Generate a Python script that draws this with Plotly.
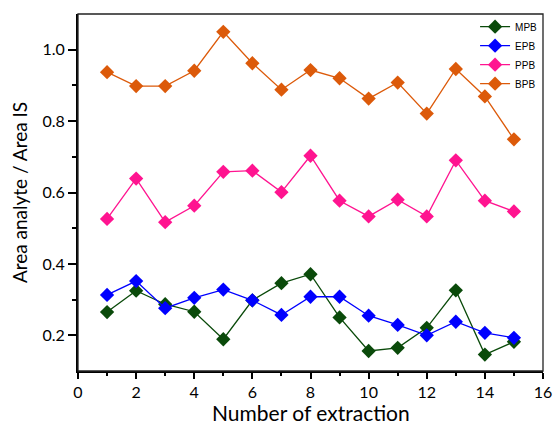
import plotly.graph_objects as go

x_vals = list(range(1, 16))
mpb = [0.265, 0.325, 0.287, 0.266, 0.189, 0.298, 0.346, 0.371, 0.250, 0.156, 0.165, 0.221, 0.326, 0.146, 0.182]
epb = [0.313, 0.352, 0.276, 0.305, 0.328, 0.298, 0.257, 0.308, 0.308, 0.255, 0.229, 0.200, 0.238, 0.207, 0.193]
ppb = [0.526, 0.639, 0.517, 0.563, 0.658, 0.661, 0.601, 0.703, 0.577, 0.533, 0.580, 0.533, 0.690, 0.577, 0.547]
bpb = [0.937, 0.898, 0.898, 0.941, 1.050, 0.962, 0.888, 0.943, 0.920, 0.863, 0.908, 0.821, 0.946, 0.869, 0.749]

series = [("MPB", mpb, "#0a4a0a"), ("EPB", epb, "#0000ff"), ("PPB", ppb, "#ff1490"), ("BPB", bpb, "#dc5a0a")]

fig = go.Figure()
for name, vals, col in series:
    fig.add_trace(go.Scatter(
        x=x_vals, y=vals, name=name, mode="lines+markers",
        line=dict(color=col, width=1.3),
        marker=dict(symbol="diamond", size=11, color=col),
    ))

title_font = dict(family="Lato, Open Sans, sans-serif", size=21, color="black")
axis_font = dict(family="Lato, Open Sans, sans-serif", size=16, color="black")
fig.update_layout(
    width=554, height=425,
    margin=dict(l=78, r=11, t=14, b=54),
    paper_bgcolor="white", plot_bgcolor="white",
    showlegend=True,
    legend=dict(x=0.998, y=1.005, xanchor="right", yanchor="top",
                font=dict(family="Liberation Sans, Arial, sans-serif", size=10, color="black"),
                bgcolor="rgba(0,0,0,0)", tracegroupgap=0, itemwidth=30),
    xaxis=dict(range=[0, 16], tickvals=list(range(0, 17, 2)), ticks="outside", ticklen=6, tickwidth=1.5,
               tickcolor="black", showline=True, linecolor="black", linewidth=2, showgrid=False, zeroline=False,
               tickfont=axis_font, automargin=False,
               minor=dict(tickvals=list(range(1, 16, 2)), ticks="outside", ticklen=3, tickwidth=1.5, tickcolor="black", showgrid=False)),
    yaxis=dict(range=[0.1, 1.1], tickvals=[0.2, 0.4, 0.6, 0.8, 1.0], ticktext=["0.2", "0.4", "0.6", "0.8", "1.0"],
               ticks="outside", ticklen=8, tickwidth=1.5, tickcolor="black", showline=True, linecolor="black",
               linewidth=2, showgrid=False, zeroline=False, tickfont=axis_font, automargin=False,
               minor=dict(tickvals=[0.3, 0.5, 0.7, 0.9], ticks="outside", ticklen=4, tickwidth=1.5, tickcolor="black", showgrid=False),
               title=dict(text="Area analyte / Area IS", font=dict(family="Lato, Open Sans, sans-serif", size=19, color="black"), standoff=10)),
    annotations=[dict(text="Number of extraction", xref="paper", yref="paper", x=0.5, y=0,
                      xanchor="center", yanchor="middle", yshift=-41, showarrow=False, font=title_font)],
    shapes=[dict(type="rect", xref="paper", yref="paper", x0=0, y0=0, x1=1, y1=1,
                 line=dict(color="#222", width=1.3), layer="above")],
)

fig.write_html("out.html", config={"displayModeBar": False},
               post_script="document.body.style.margin='0';document.body.style.overflow='hidden';")
